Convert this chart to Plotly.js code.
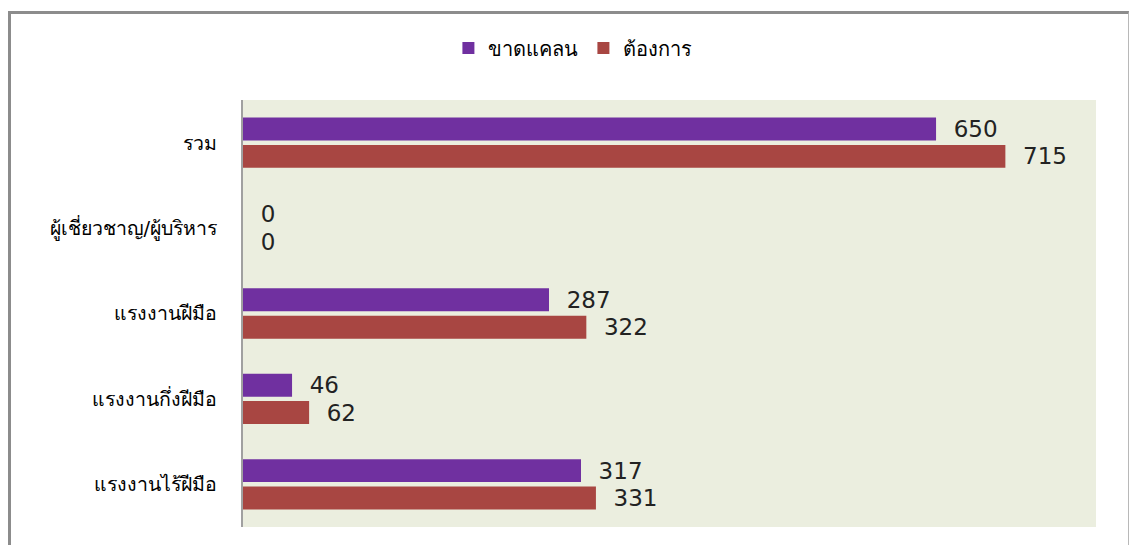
<!DOCTYPE html>
<html>
<head>
<meta charset="utf-8">
<script src="https://cdn.plot.ly/plotly-3.0.1.min.js"></script>
<style>
  html, body { margin: 0; padding: 0; background: #fff; }
  #wrap { position: relative; width: 1130px; height: 545px; }
  #chart { position: absolute; left: 0; top: 0; width: 1130px; height: 545px; }
  #frame { position: absolute; left: 8px; top: 11px; width: 1117px; height: 540px;
           border-left: 3px solid #8c8c8c; border-top: 3px solid #8c8c8c; border-right: 1px solid #b8b8b8;
           pointer-events: none; }
</style>
</head>
<body>
<div id="wrap">
  <div id="chart"></div>
  <div id="frame"></div>
</div>
<script>
const categories = ["รวม", "ผู้เชี่ยวชาญ/ผู้บริหาร", "แรงงานฝีมือ", "แรงงานกึ่งฝีมือ", "แรงงานไร้ฝีมือ"];
const shortageValues = [650, 0, 287, 46, 317];   // ขาดแคลน
const demandValues = [715, 0, 322, 62, 331];     // ต้องการ
const seriesNames = ["ขาดแคลน", "ต้องการ"];

const fontFamily = "Tahoma, 'DejaVu Sans', 'Noto Sans', sans-serif";
const pad = "\u00a0\u00a0";

const traces = [
  {
    type: "bar", orientation: "h", name: seriesNames[0],
    y: categories, x: shortageValues,
    marker: { color: "#7030A0" },
    text: shortageValues.map(v => pad + v), textposition: "outside", constraintext: "none",
    textfont: { family: "'DejaVu Sans', Verdana, sans-serif", size: 23, color: "#222" },
    cliponaxis: false, hoverinfo: "x+name"
  },
  {
    type: "bar", orientation: "h", name: seriesNames[1],
    y: categories, x: demandValues,
    marker: { color: "#A84642" },
    text: demandValues.map(v => pad + v), textposition: "outside", constraintext: "none",
    textfont: { family: "'DejaVu Sans', Verdana, sans-serif", size: 23, color: "#222" },
    cliponaxis: false, hoverinfo: "x+name"
  }
];

const layout = {
  width: 1130, height: 545,
  margin: { l: 243, r: 34, t: 100, b: 18, pad: 0 },
  paper_bgcolor: "#ffffff",
  plot_bgcolor: "#EBEEDF",
  barmode: "group",
  bargap: 0.36,
  bargroupgap: 0.16,
  font: { family: fontFamily, size: 19, color: "#000" },
  showlegend: true,
  legend: {
    orientation: "h", xref: "container", yref: "container",
    x: 0.507, xanchor: "center", y: 0.912, yanchor: "middle",
    font: { family: fontFamily, size: 20, color: "#000" },
    itemwidth: 30, traceorder: "normal"
  },
  xaxis: {
    range: [0, 800], showgrid: false, zeroline: false, showticklabels: false,
    showline: false, ticks: "", fixedrange: true
  },
  yaxis: {
    type: "category", autorange: "reversed",
    showgrid: false, zeroline: false, showline: true,
    linecolor: "#a0a0a0", linewidth: 2, ticks: "",
    ticklabelstandoff: 20,
    tickfont: { family: fontFamily, size: 19.5, color: "#000" }
  }
};

Plotly.newPlot("chart", traces, layout, { displayModeBar: false, staticPlot: true });
</script>
</body>
</html>
